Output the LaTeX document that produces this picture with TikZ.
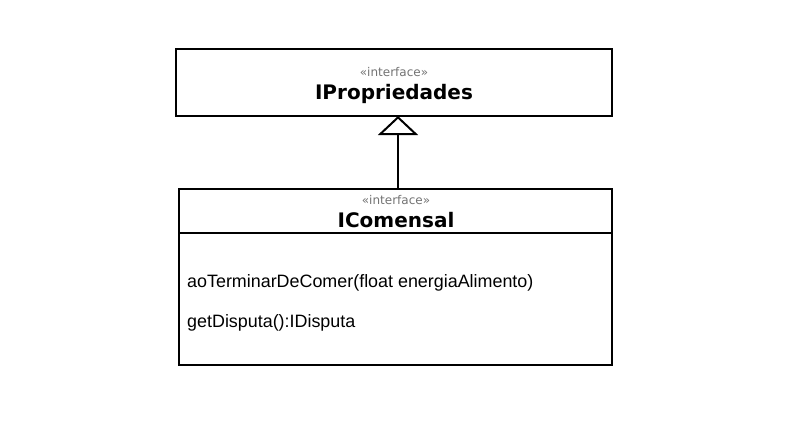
\documentclass[tikz,border=0pt]{standalone}
\usepackage{fontspec}
\setmainfont{DejaVu Sans}
\newfontfamily\arialfont{Liberation Sans}
\usetikzlibrary{arrows.meta}
\tikzset{
  box/.style={draw, line width=2pt, fill=white},
  stereo/.style={anchor=base, font=\fontsize{12}{14}\selectfont, text=black!55, inner sep=0pt},
  cname/.style={anchor=base, font=\fontsize{20}{24}\selectfont\bfseries, inner sep=0pt},
  meth/.style={anchor=base west, font=\arialfont\fontsize{17.9}{21}\selectfont, inner sep=0pt},
  realize/.style={line width=2pt, -{Triangle[open, width=40pt, length=19pt, line width=2pt]}}
}
\begin{document}
\begin{tikzpicture}[x=1pt, y=-1pt]
\useasboundingbox (0,0) rectangle (794,447);
% top class
\draw[box] (176,49) rectangle (612,116);
\coordinate (topbottom) at (398,116);
\node[stereo] (st1) at (394,76) {«interface»};
\node[cname] (n1) at (394,99) {IPropriedades};
% bottom class
\draw[box] (179,189) rectangle (612,365);
\draw[line width=2pt] (179,233) -- (612,233);
\coordinate (bottomtop) at (398,189);
\node[stereo] (st2) at (396,204) {«interface»};
\node[cname] (n2) at (396,227) {IComensal};
\node[meth] (m1) at (187,287) {aoTerminarDeComer(float energiaAlimento)};
\node[meth] (m2) at (187,327) {getDisputa():IDisputa};
% realization
\draw[realize] (bottomtop) -- (topbottom);
\end{tikzpicture}
\end{document}
